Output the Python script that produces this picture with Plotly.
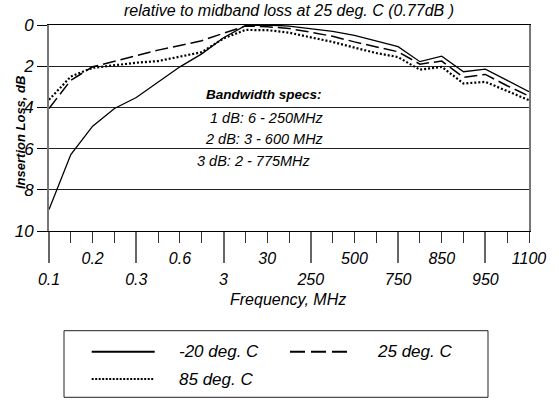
import plotly.graph_objects as go

# ---------------- data ----------------
tick_labels = ["0.1", "", "0.2", "", "0.3", "", "0.6", "", "3", "", "30", "",
               "250", "", "500", "", "750", "", "850", "", "950", "", "1100"]
x_pos = list(range(len(tick_labels)))

loss_m20 = [8.96, 6.29, 4.91, 4.05, 3.52, 2.78, 2.03, 1.40, 0.62, 0.03, 0.0, 0.05,
            0.17, 0.31, 0.50, 0.76, 1.05, 1.78, 1.51, 2.27, 2.14, 2.69, 3.24]
loss_25 = [4.05, 2.68, 2.03, 1.76, 1.48, 1.22, 1.00, 0.76, 0.40, 0.05, 0.08, 0.17,
           0.35, 0.55, 0.82, 1.05, 1.30, 1.90, 1.75, 2.54, 2.40, 2.95, 3.45]
loss_85 = [3.63, 2.50, 2.08, 1.94, 1.83, 1.75, 1.55, 1.32, 0.65, 0.24, 0.25, 0.37,
           0.60, 0.82, 1.10, 1.36, 1.56, 2.17, 2.03, 2.84, 2.76, 3.20, 3.65]

series_names = ["-20 deg. C", "25 deg. C", "85 deg. C"]
series_values = [loss_m20, loss_25, loss_85]

y_ticks = [0, 2, 4, 6, 8, 10]
title_text = "relative to midband loss at 25 deg. C (0.77dB )"
spec_lines = ["Bandwidth specs:", "1 dB: 6 - 250MHz", "2 dB: 3 - 600 MHz", "3 dB: 2 - 775MHz"]

# ---------------- styles / layout ----------------
W, H = 559, 400
ML, MR, MT, MB = 49, 30, 25, 169
PW, PH = W - ML - MR, H - MT - MB
PLOT_L, PLOT_B = ML, H - MB
FONT = "Liberation Sans, Arial, sans-serif"

def px(x):
    return (x - PLOT_L) / PW

def py(y):
    return (PLOT_B - y) / PH

line_styles = [dict(width=1.3, dash="solid"),
               dict(width=1.5, dash="13px,5px"),
               dict(width=2.2, dash="2px,2px")]
legend_styles = [dict(width=2, dash="solid"),
                 dict(width=2, dash="15px,6px"),
                 dict(width=2.2, dash="2px,1.5px")]
trace_axes = ["x", "x", "x2"]

fig = go.Figure()
for name, vals, st, ax in zip(series_names, series_values, line_styles, trace_axes):
    fig.add_trace(go.Scatter(x=x_pos, y=vals, mode="lines", name=name, xaxis=ax, yaxis="y",
                             line=dict(color="black", **st), showlegend=False))

long_idx = [i for i in x_pos if i % 4 == 0]
short_idx = [i for i in x_pos if i % 4 != 0]

fig.update_layout(
    width=W, height=H,
    margin=dict(l=ML, r=MR, t=MT, b=MB),
    paper_bgcolor="white", plot_bgcolor="white",
    font=dict(family=FONT, color="black"),
    showlegend=False,
    title=dict(text=title_text, x=0.5, xref="paper", xanchor="center",
               y=1 - 10 / H, yref="container", yanchor="middle",
               font=dict(size=16, style="italic", color="black")),
    xaxis=dict(range=[0, 22], tickmode="array", tickvals=long_idx,
               ticktext=[tick_labels[i] for i in long_idx],
               ticks="outside", ticklen=31, tickwidth=1.5, tickcolor="#666",
               showline=True, linecolor="black", linewidth=1, mirror=True,
               showgrid=False, zeroline=False, ticklabelstandoff=3,
               tickfont=dict(size=16, style="italic")),
    xaxis2=dict(range=[0, 22], overlaying="x", anchor="y", side="bottom",
                tickmode="array", tickvals=short_idx,
                ticktext=[tick_labels[i] for i in short_idx],
                ticks="outside", ticklen=11, tickwidth=1, tickcolor="#333",
                showline=False, showgrid=False, zeroline=False,
                ticklabelstandoff=2, tickfont=dict(size=16, style="italic")),
    yaxis=dict(range=[10, 0], tickmode="array", tickvals=y_ticks,
               ticks="outside", ticklen=10, tickcolor="black", tickwidth=1,
               showgrid=True, gridcolor="#222", gridwidth=1,
               showline=True, linecolor="#777", linewidth=2, mirror=True,
               zeroline=False, tickfont=dict(size=17, style="italic")),
)

# text annotations
def note(text, x, y, font, xanchor="center", angle=0):
    return dict(text=text, x=px(x), y=py(y), xref="paper", yref="paper",
                xanchor=xanchor, yanchor="middle", textangle=angle,
                showarrow=False, font=font)

ann = [note("Insertion Loss, dB", 20, 133, dict(size=13, style="italic", weight="bold"), angle=-90),
       note("Frequency, MHz", 288, 299, dict(size=16, style="italic"))]
spec_pos = [(264, 95), (266.5, 117.5), (264, 139), (254, 161)]
for i, (t, (sx, sy)) in enumerate(zip(spec_lines, spec_pos)):
    f = dict(size=13.5, style="italic", weight="bold") if i == 0 else dict(size=14.5, style="italic")
    ann.append(note(t, sx, sy, f))

# custom legend box (drawn like the reference)
shapes = [dict(type="rect", xref="paper", yref="paper",
               x0=px(64), x1=px(488), y0=py(397.3), y1=py(330.7),
               line=dict(color="#222", width=1), fillcolor="white", layer="below")]
legend_pos = [(91.7, 351.7), (290, 351.7), (91.7, 379)]
for name, st, (lx, ly) in zip(series_names, legend_styles, legend_pos):
    shapes.append(dict(type="line", xref="paper", yref="paper",
                       x0=px(lx), x1=px(lx + 63), y0=py(ly), y1=py(ly),
                       line=dict(color="black", **st)))
    ann.append(note(name, lx + 85, ly, dict(size=17, style="italic"), xanchor="left"))

fig.update_layout(annotations=ann, shapes=shapes)
fig.write_html("out.html",
               config={"displayModeBar": False},
               post_script="document.body.style.margin='0';document.body.style.overflow='hidden';")
